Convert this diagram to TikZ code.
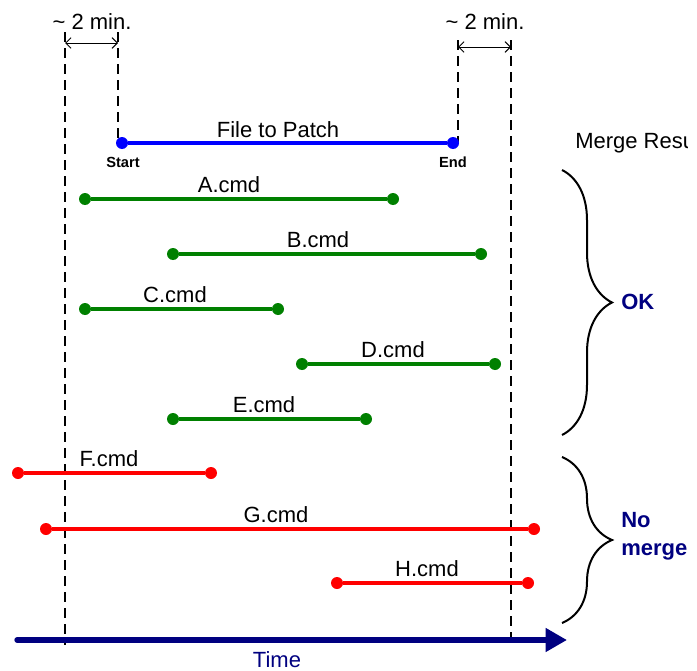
\documentclass[tikz,border=0pt]{standalone}
\usepackage{fontspec}
\setmainfont{Liberation Sans}
\usetikzlibrary{arrows.meta,decorations.pathreplacing}
\definecolor{patchblue}{RGB}{0,0,255}
\definecolor{okgreen}{RGB}{0,128,0}
\definecolor{failred}{RGB}{255,0,0}
\definecolor{timenavy}{RGB}{0,0,128}
\tikzset{
    guide/.style={
        dash pattern=on 7.5pt off 4.5pt,
        line width=1.5pt
    },
    mingap/.style={
        {Straight Barb[length=4pt,width=8pt]}-{Straight Barb[length=4pt,width=8pt]},
        line width=0.75pt
    },
    interval/.style={line width=2.4pt},
    endpoint/.style={
        circle,
        inner sep=0pt,
        minimum size=9pt
    },
    cmdlabel/.style={
        font=\fontsize{16.5}{20}\selectfont,
        anchor=base,
        inner sep=0pt
    },
    tag/.style={
        font=\fontsize{11}{13}\selectfont\bfseries,
        anchor=base,
        inner sep=0pt
    },
    verdict/.style={
        font=\fontsize{16.5}{21}\selectfont\bfseries,
        text=timenavy,
        align=left,
        anchor=west,
        inner sep=0pt
    },
    bracket/.style={
        decorate,
        decoration={brace, amplitude=37.5pt},
        line width=1.5pt
    },
    timeaxis/.style={
        -{Triangle[length=16pt,width=17pt]},
        line width=4pt,
        line cap=round,
        timenavy
    }
}

\begin{document}
\begin{tikzpicture}[x=0.75pt, y=-0.75pt]
    \useasboundingbox (0,0) rectangle (697,671);

    % dashed guides
    \coordinate (lo-top) at (65,32);
    \coordinate (lo-bot) at (65,645);
    \coordinate (li-top) at (118,32);
    \coordinate (li-bot) at (118,143);
    \coordinate (ri-top) at (458,40);
    \coordinate (ri-bot) at (458,143);
    \coordinate (ro-top) at (511,40);
    \coordinate (ro-bot) at (511,645);
    \draw[guide] (lo-top) -- (lo-bot);
    \draw[guide] (li-top) -- (li-bot);
    \draw[guide] (ri-top) -- (ri-bot);
    \draw[guide] (ro-top) -- (ro-bot);

    % two minute margins
    \coordinate (lm-a) at (65,43);
    \coordinate (lm-b) at (118,43);
    \coordinate (rm-a) at (458,47);
    \coordinate (rm-b) at (511,47);
    \draw[mingap] (lm-a) -- (lm-b);
    \draw[mingap] (rm-a) -- (rm-b);
    \node[cmdlabel] (lmin) at (92,29) {\textasciitilde{} 2 min.};
    \node[cmdlabel] (rmin) at (485,29) {\textasciitilde{} 2 min.};

    % file to patch
    \node[endpoint, fill=patchblue] (patch-s) at (122,143) {};
    \node[endpoint, fill=patchblue] (patch-e) at (453,143) {};
    \draw[interval, patchblue] (patch-s) -- (patch-e);
    \node[cmdlabel] (patch) at (278,137) {File to Patch};
    \node[tag] (start) at (123,167) {Start};
    \node[tag] (end) at (453,167) {End};

    % command intervals
    \foreach \name/\xa/\xb/\y/\lx/\col in {
        A/85/393/199/229/okgreen,
        B/173/481/254/318/okgreen,
        C/85/278/309/175/okgreen,
        D/302/495/364/393/okgreen,
        E/173/366/419/264/okgreen,
        F/18/211/473/109/failred,
        G/46/534/529/276/failred,
        H/337/528/583/427/failred}{
        \node[endpoint, fill=\col] (\name-s) at (\xa,\y) {};
        \node[endpoint, fill=\col] (\name-e) at (\xb,\y) {};
        \draw[interval, \col] (\name-s) -- (\name-e);
        \node[cmdlabel] (\name-lbl) at (\lx,\y-7) {\name.cmd};
    }

    % merge results (clipped as in the source)
    \begin{scope}
        \clip (560,120) rectangle (687,160);
        \node[cmdlabel, anchor=base west] (results) at (575,148) {Merge Results};
    \end{scope}
    \coordinate (ok-top) at (562,170);
    \coordinate (ok-bot) at (562,435);
    \coordinate (no-top) at (562,457);
    \coordinate (no-bot) at (562,623);
    \draw[bracket] (ok-top) -- (ok-bot);
    \draw[bracket] (no-top) -- (no-bot);
    \node[verdict] (ok) at (621,302) {OK};
    \node[verdict] (nomerge) at (621,536) {No\\merge};

    % time axis
    \coordinate (t-start) at (17,640);
    \coordinate (t-end) at (567,640);
    \draw[timeaxis] (t-start) -- (t-end);
    \node[cmdlabel, text=timenavy] (time) at (277,667) {Time};
\end{tikzpicture}
\end{document}
